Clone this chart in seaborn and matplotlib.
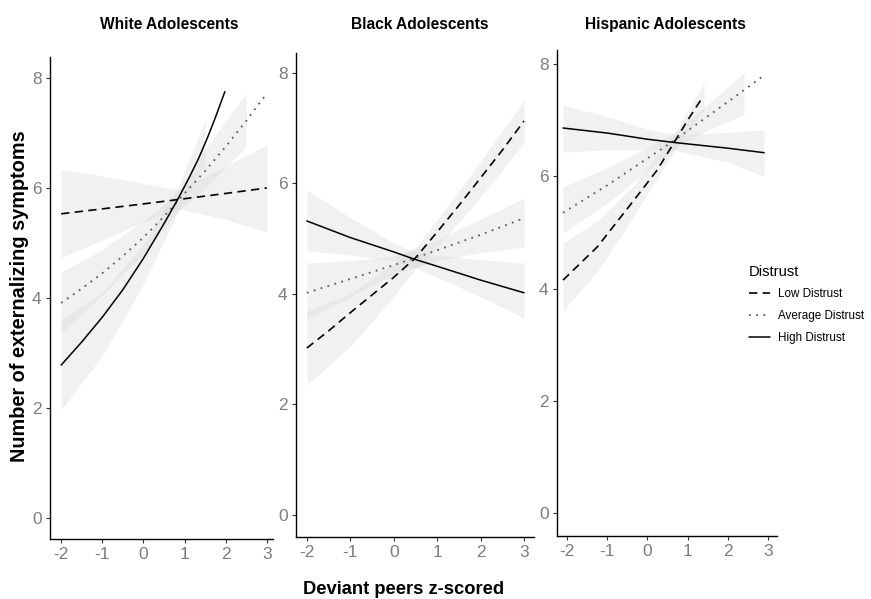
import numpy as np
import pandas as pd
import matplotlib
matplotlib.use("Agg")
import matplotlib.pyplot as plt
import seaborn as sns
from matplotlib.lines import Line2D

sns.set_style("white")
plt.rcParams['font.family'] = ['Liberation Sans', 'DejaVu Sans']
plt.rcParams['text.color'] = 'black'

panels = ["White Adolescents", "Black Adolescents", "Hispanic Adolescents"]
groups = ["Low Distrust", "Average Distrust", "High Distrust"]
x_ticks = [-2, -1, 0, 1, 2, 3]
y_ticks = [0, 2, 4, 6, 8]

# ---- White adolescents ----
w_low_x = [-2, -1, 0, 0.85, 2, 3]
w_low_y = [5.53, 5.62, 5.71, 5.79, 5.90, 6.00]
w_low_lo = [4.73, 5.05, 5.38, 5.62, 5.43, 5.20]
w_low_hi = [6.33, 6.22, 6.08, 5.97, 6.40, 6.78]

w_avg_x = [-2, -1.5, -1, -0.5, 0, 0.5, 1, 1.5, 2, 2.5, 3]
w_avg_y = [3.91, 4.17, 4.45, 4.76, 5.10, 5.48, 5.90, 6.31, 6.75, 7.22, 7.72]
w_avg_band_x = [-2, -1, 0, 0.85, 1.5, 2.5]
w_avg_lo = [3.36, 4.05, 4.80, 5.58, 6.00, 6.75]
w_avg_hi = [4.47, 4.88, 5.40, 5.93, 6.70, 7.72]

w_high_x = [-2, -1.5, -1, -0.5, 0, 0.5, 0.84, 1.1, 1.35, 1.55, 1.75, 1.98]
w_high_y = [2.78, 3.20, 3.65, 4.15, 4.72, 5.35, 5.80, 6.17, 6.55, 6.90, 7.28, 7.75]
w_high_band_x = [-2, -1, 0, 0.85, 1.5]
w_high_lo = [1.96, 2.95, 4.25, 5.58, 6.45]
w_high_hi = [3.62, 4.10, 4.98, 6.02, 7.24]

# ---- Black adolescents ----
b_low_x = [-2, -1.5, -1, -0.5, 0, 0.5, 1, 1.5, 2, 2.5, 3]
b_low_y = [3.02, 3.33, 3.66, 3.98, 4.30, 4.65, 5.12, 5.60, 6.10, 6.60, 7.13]
b_low_band_x = [-2, -1, 0, 0.5, 1, 2, 3]
b_low_lo = [2.35, 3.05, 3.95, 4.45, 4.85, 5.75, 6.73]
b_low_hi = [3.70, 4.00, 4.55, 4.82, 5.35, 6.40, 7.50]

b_avg_x = [-2, -1, 0, 1, 2, 3]
b_avg_y = [4.02, 4.27, 4.52, 4.79, 5.07, 5.37]
b_avg_lo = [3.55, 3.95, 4.35, 4.60, 4.75, 4.85]
b_avg_hi = [4.56, 4.60, 4.68, 4.98, 5.35, 5.73]

b_high_x = [-2, -1, 0, 0.47, 1, 2, 3]
b_high_y = [5.32, 5.02, 4.76, 4.63, 4.50, 4.25, 4.02]
b_high_lo = [4.78, 4.70, 4.60, 4.48, 4.30, 3.95, 3.56]
b_high_hi = [5.88, 5.38, 4.92, 4.76, 4.70, 4.62, 4.56]

# ---- Hispanic adolescents ----
h_low_x = [-2.1, -1.25, -0.33, 0.24, 0.66, 1.0, 1.38]
h_low_y = [4.15, 4.74, 5.58, 6.11, 6.60, 7.00, 7.42]
h_low_band_x = [-2.1, -1.25, -0.33, 0.66, 1.41]
h_low_lo = [3.60, 4.30, 5.30, 6.45, 7.18]
h_low_hi = [4.81, 5.20, 5.85, 6.75, 7.66]

h_avg_x = [-2.1, -1, 0, 0.69, 1.5, 2.2, 2.9]
h_avg_y = [5.35, 5.84, 6.32, 6.65, 7.07, 7.43, 7.80]
h_avg_band_x = [-2.1, -1, 0, 0.69, 1.5, 2.4]
h_avg_lo = [4.99, 5.52, 6.10, 6.50, 6.82, 7.10]
h_avg_hi = [5.81, 6.15, 6.52, 6.78, 7.28, 7.84]

h_high_x = [-2.1, -1, 0, 0.69, 2, 2.9]
h_high_y = [6.86, 6.77, 6.66, 6.60, 6.50, 6.42]
h_high_lo = [6.43, 6.47, 6.48, 6.46, 6.25, 6.00]
h_high_hi = [7.27, 7.06, 6.84, 6.74, 6.78, 6.83]

styles = {"Low Distrust": (0, (5, 3.2)), "Average Distrust": (0, (1, 3)), "High Distrust": "-"}
colors = {"Low Distrust": "black", "Average Distrust": "#5a5a5a", "High Distrust": "black"}
widths = {"Low Distrust": 1.2, "Average Distrust": 1.3, "High Distrust": 1.1}

panel_data = [
    [("Low Distrust", w_low_x, w_low_y, w_low_x, w_low_lo, w_low_hi),
     ("Average Distrust", w_avg_x, w_avg_y, w_avg_band_x, w_avg_lo, w_avg_hi),
     ("High Distrust", w_high_x, w_high_y, w_high_band_x, w_high_lo, w_high_hi)],
    [("Low Distrust", b_low_x, b_low_y, b_low_band_x, b_low_lo, b_low_hi),
     ("Average Distrust", b_avg_x, b_avg_y, b_avg_x, b_avg_lo, b_avg_hi),
     ("High Distrust", b_high_x, b_high_y, b_high_x, b_high_lo, b_high_hi)],
    [("Low Distrust", h_low_x, h_low_y, h_low_band_x, h_low_lo, h_low_hi),
     ("Average Distrust", h_avg_x, h_avg_y, h_avg_band_x, h_avg_lo, h_avg_hi),
     ("High Distrust", h_high_x, h_high_y, h_high_x, h_high_lo, h_high_hi)],
]

W, H = 871, 599
fig = plt.figure(figsize=(W / 100, H / 100), dpi=100)

boxes = [(50, 273, 57, 539), (296, 534, 53, 537), (557, 777, 50, 536)]
xlims = [(-2.27, 3.15), (-2.25, 3.23), (-2.25, 3.22)]
ylims = [(-0.38, 8.38), (-0.40, 8.36), (-0.41, 8.25)]
title_x = [169, 420, 665]

for i, (l, r, t, b) in enumerate(boxes):
    ax = fig.add_axes([l / W, (H - b) / H, (r - l) / W, (b - t) / H])
    for g, xs, ys, bx, lo, hi in panel_data[i]:
        ax.fill_between(bx, lo, hi, color="#d8d8d8", alpha=0.35, linewidth=0)
    for g, xs, ys, bx, lo, hi in panel_data[i]:
        df = pd.DataFrame({"x": xs, "y": ys})
        sns.lineplot(data=df, x="x", y="y", ax=ax, color=colors[g],
                     linestyle=styles[g], linewidth=widths[g])
    ax.set_xlim(*xlims[i])
    ax.set_ylim(*ylims[i])
    ax.set_xticks(x_ticks)
    ax.set_yticks(y_ticks)
    ax.set_xticklabels([str(v) for v in x_ticks])
    ax.set_xlabel("")
    ax.set_ylabel("")
    for s in ["top", "right"]:
        ax.spines[s].set_visible(False)
    for s in ["left", "bottom"]:
        ax.spines[s].set_color("black")
        ax.spines[s].set_linewidth(1.0)
    ax.tick_params(axis="both", which="both", direction="out", length=3, width=0.8,
                   color="#333333", labelcolor="#7d7d7d", labelsize=12.5, pad=3,
                   left=True, bottom=True)
    ax.set_facecolor("white")
    fig.text(title_x[i] / W, 1 - 23 / H, panels[i],
             ha="center", va="center_baseline", fontsize=11.2, fontweight="bold", color="black")

fig.text(20 / W, 1 - 296 / H, "Number of externalizing symptoms", rotation=90,
         ha="center", va="center", fontsize=14.3, fontweight="bold", color="black")
fig.text(404 / W, 1 - 589 / H, "Deviant peers z-scored", ha="center", va="center",
         fontsize=13.2, fontweight="bold", color="black")

handles = [Line2D([0], [0], color=colors[g], linestyle=styles[g],
                  linewidth=widths[g]) for g in groups]
leg = fig.legend(handles, groups, title="Distrust", loc="upper left",
                 bbox_to_anchor=(738 / W, 1 - 254 / H), frameon=False,
                 fontsize=8.4, title_fontsize=10.6, handlelength=1.8,
                 handletextpad=0.7, labelspacing=0.85)
leg._legend_box.align = "left"

fig.savefig("out.png", dpi=100, facecolor="white")
